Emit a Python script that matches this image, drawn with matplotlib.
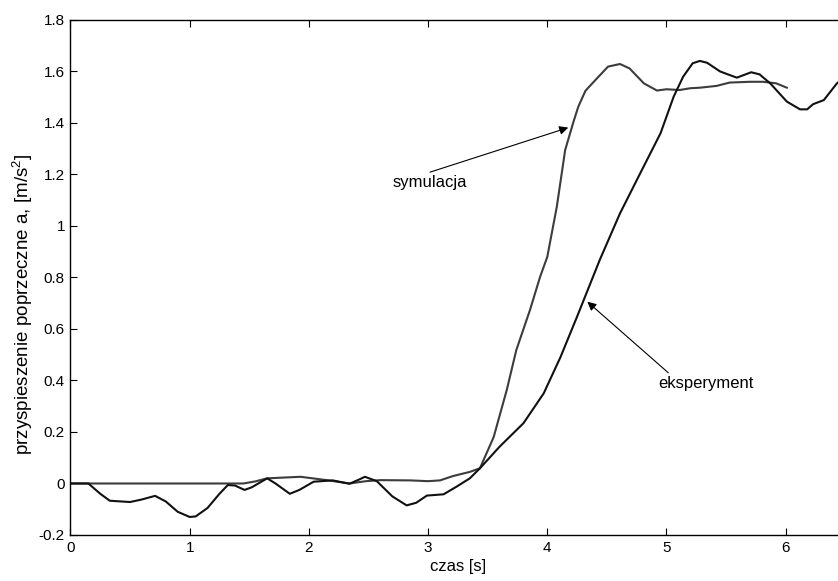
import matplotlib
matplotlib.use("Agg")
import matplotlib.pyplot as plt
from matplotlib.ticker import FuncFormatter

plt.rcParams['font.family'] = ['Liberation Sans', 'DejaVu Sans']
plt.rcParams['mathtext.fontset'] = 'custom'
plt.rcParams['mathtext.rm'] = 'Liberation Sans'
plt.rcParams['axes.unicode_minus'] = False

# experiment (black)
t_exp = [0.0, 0.15, 0.25, 0.33, 0.5, 0.6, 0.71, 0.8, 0.9, 1.0, 1.05, 1.15, 1.25,
         1.32, 1.38, 1.46, 1.52, 1.65, 1.72, 1.84, 1.92, 2.04, 2.2, 2.34, 2.42,
         2.47, 2.57, 2.7, 2.82, 2.9, 2.99, 3.13, 3.24, 3.35, 3.435, 3.6, 3.8,
         3.97, 4.11, 4.25, 4.44, 4.61, 4.78, 4.95, 5.06, 5.14, 5.22, 5.28, 5.34,
         5.45, 5.59, 5.71, 5.78, 5.87, 6.01, 6.12, 6.18, 6.23, 6.32, 6.43, 6.55]
a_exp = [0.0, 0.0, -0.04, -0.067, -0.072, -0.062, -0.048, -0.07, -0.11, -0.13,
         -0.128, -0.095, -0.04, -0.006, -0.008, -0.025, -0.015, 0.02, 0.0, -0.04,
         -0.025, 0.007, 0.012, -0.001, 0.015, 0.026, 0.009, -0.05, -0.085, -0.075,
         -0.047, -0.042, -0.012, 0.02, 0.059, 0.143, 0.234, 0.35, 0.49, 0.648,
         0.868, 1.049, 1.205, 1.36, 1.502, 1.58, 1.632, 1.641, 1.634, 1.6, 1.576,
         1.597, 1.589, 1.554, 1.483, 1.453, 1.453, 1.473, 1.489, 1.554, 1.6]

# simulation (dark grey)
t_sim = [0.0, 1.45, 1.55, 1.65, 1.93, 2.15, 2.34, 2.48, 2.6, 2.85, 3.0, 3.1, 3.21,
         3.35, 3.435, 3.55, 3.66, 3.74, 3.855, 3.94, 4.0, 4.08, 4.15, 4.22, 4.26,
         4.32, 4.41, 4.51, 4.61, 4.69, 4.81, 4.92, 5.0, 5.11, 5.2, 5.28, 5.42,
         5.53, 5.7, 5.81, 5.92, 6.01]
a_sim = [0.0, 0.0, 0.008, 0.02, 0.026, 0.013, 0.0, 0.009, 0.013, 0.012, 0.009,
         0.012, 0.029, 0.045, 0.059, 0.18, 0.363, 0.518, 0.674, 0.803, 0.88,
         1.075, 1.295, 1.405, 1.463, 1.525, 1.57, 1.619, 1.629, 1.612, 1.554,
         1.526, 1.531, 1.528, 1.535, 1.537, 1.544, 1.557, 1.56, 1.56, 1.554, 1.537]

x_ticks = [0, 1, 2, 3, 4, 5, 6]
y_ticks = [-0.2, 0, 0.2, 0.4, 0.6, 0.8, 1, 1.2, 1.4, 1.6, 1.8]

fig = plt.figure(figsize=(8.38, 5.81), dpi=100)
# axes runs a bit past the right edge of the picture (cropped original)
ax = fig.add_axes([0.0841, 0.0792, 0.9246, 0.8864])

ax.plot(t_sim, a_sim, color='#3c3c3c', lw=1.5)
ax.plot(t_exp, a_exp, color='#111111', lw=1.5)

ax.set_xlim(0, 6.5)
ax.set_ylim(-0.2, 1.8)
ax.set_xticks(x_ticks)
ax.set_yticks(y_ticks)
ax.yaxis.set_major_formatter(FuncFormatter(lambda v, p: '%g' % round(v, 2)))
ax.tick_params(direction='in', length=5, width=0.8, labelsize=11,
               top=True, right=True, pad=4)
for s in ax.spines.values():
    s.set_linewidth(1.0)

ax.set_xlabel('czas [s]', fontsize=12, labelpad=3)
ax.set_ylabel('przyspieszenie poprzeczne a, [m/s$^2$]', fontsize=13.5)
ax.yaxis.set_label_coords(-0.046, 0.4476)

arrow = dict(arrowstyle='-|>', color='black', lw=0.8, mutation_scale=13,
             shrinkA=0, shrinkB=0)
ax.annotate('', xy=(4.176, 1.382), xytext=(3.016, 1.209), arrowprops=arrow)
ax.text(2.706, 1.167, 'symulacja', fontsize=12, va='center', ha='left')
ax.annotate('', xy=(4.336, 0.706), xytext=(5.015, 0.430), arrowprops=arrow)
ax.text(4.929, 0.390, 'eksperyment', fontsize=12, va='center', ha='left')

fig.savefig('out.png', dpi=100)
